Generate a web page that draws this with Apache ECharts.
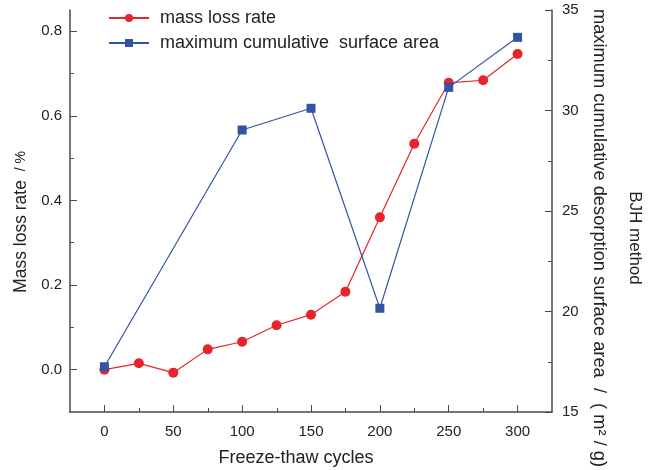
<!DOCTYPE html>
<html>
<head>
<meta charset="utf-8">
<script src="https://cdn.jsdelivr.net/npm/echarts@6/dist/echarts.min.js"></script>
<style>
html,body{margin:0;padding:0;background:#fff;}
#chart{width:653px;height:470px;}
</style>
</head>
<body>
<div id="chart"></div>
<script>
// Data
const cyclesMass = [0, 25, 50, 75, 100, 125, 150, 175, 200, 225, 250, 275, 300];
const massLossRate = [0.0, 0.015, -0.007, 0.048, 0.066, 0.105, 0.130, 0.184, 0.36, 0.534, 0.678, 0.684, 0.746];
const cyclesArea = [0, 100, 150, 200, 250, 300];
const surfaceArea = [17.25, 29.03, 30.11, 20.16, 31.15, 33.64];
const xMajorTicks = [0, 50, 100, 150, 200, 250, 300];
const xMinorTicks = [25, 75, 125, 175, 225, 275];
const leftMajorTicks = [0, 0.2, 0.4, 0.6, 0.8];
const leftMinorTicks = [0.1, 0.3, 0.5, 0.7];

const axisColor = '#4a4a4a';
const textColor = '#222';
const font = 'Liberation Sans, Arial, sans-serif';
const yLeftMin = -0.1;

const chart = echarts.init(document.getElementById('chart'), null, {renderer: 'canvas'});
chart.setOption({
  animation: false,
  backgroundColor: '#fff',
  textStyle: {fontFamily: font},
  grid: {left: 70, right: 101, top: 10, bottom: 58, containLabel: false, outerBoundsMode: 'none'},
  legend: {
    orient: 'vertical',
    left: 103,
    top: 4,
    itemWidth: 40,
    itemHeight: 10,
    itemGap: 7,
    textStyle: {fontSize: 18, color: textColor, fontFamily: font, padding: [0, 0, 0, 6]},
    data: ['mass loss rate', 'maximum cumulative  surface area']
  },
  xAxis: [{
    type: 'value',
    position: 'bottom',
    min: -25, max: 325,
    name: 'Freeze-thaw cycles',
    nameLocation: 'middle',
    nameGap: 37,
    nameTextStyle: {fontSize: 18, color: textColor, padding: [0, 30, 0, 0]},
    axisLine: {show: true, onZero: false, lineStyle: {color: axisColor, width: 1.5}},
    axisTick: {show: true, inside: true, length: 7, customValues: xMajorTicks, lineStyle: {color: axisColor, width: 1}},
    axisLabel: {show: true, customValues: xMajorTicks, fontSize: 15, color: textColor, margin: 12},
    splitLine: {show: false}
  }],
  yAxis: [{
    type: 'value',
    min: yLeftMin, max: 0.85,
    position: 'left',
    name: '{a|Mass loss rate }{b| / %}',
    nameLocation: 'middle',
    nameRotate: 90,
    nameGap: 40,
    nameTextStyle: {
      color: textColor, padding: [0, 22, 0, 0],
      rich: {a: {fontSize: 17.5, color: textColor, fontFamily: font}, b: {fontSize: 14, color: textColor, fontFamily: font}}
    },
    axisLine: {show: true, onZero: false, lineStyle: {color: axisColor, width: 1.5}},
    axisTick: {show: true, inside: true, length: 7, customValues: leftMajorTicks, lineStyle: {color: axisColor, width: 1}},
    axisLabel: {show: true, customValues: leftMajorTicks, fontSize: 15, color: textColor, margin: 8,
      formatter: v => v.toFixed(1)},
    splitLine: {show: false}
  }, {
    type: 'value',
    min: yLeftMin, max: 0.85,
    position: 'left',
    offset: 0,
    axisLine: {show: false, onZero: false},
    axisTick: {show: true, inside: true, length: 4, customValues: leftMinorTicks, lineStyle: {color: axisColor, width: 1}},
    axisLabel: {show: false},
    splitLine: {show: false}
  }, {
    type: 'value',
    min: 15, max: 35, interval: 5,
    position: 'right',
    offset: 0,
    name: '{a|BJH method}\n{b|maximum cumulative desorption surface area  /  ( m² / g)}',
    nameLocation: 'middle',
    nameRotate: -90,
    nameGap: 27,
    nameTextStyle: {
      color: textColor, padding: [0, 0, 0, 54],
      rich: {
        a: {fontSize: 17, color: textColor, fontFamily: font, lineHeight: 36},
        b: {fontSize: 18.3, color: textColor, fontFamily: font, lineHeight: 36}
      }
    },
    axisLine: {show: true, onZero: false, lineStyle: {color: axisColor, width: 1.5}},
    axisTick: {show: true, inside: true, length: 7, lineStyle: {color: axisColor, width: 1}},
    minorTick: {show: true, splitNumber: 2, length: 4, lineStyle: {color: axisColor, width: 1}},
    axisLabel: {show: true, fontSize: 15, color: textColor, margin: 10},
    splitLine: {show: false}
  }],
  series: [{
    name: 'mass loss rate',
    type: 'line',
    xAxisIndex: 0,
    yAxisIndex: 0,
    data: cyclesMass.map((c, i) => [c, massLossRate[i]]),
    symbol: 'circle',
    symbolSize: 10,
    itemStyle: {color: '#e8232b'},
    lineStyle: {color: '#e8232b', width: 1.2}
  }, {
    name: 'maximum cumulative  surface area',
    type: 'line',
    xAxisIndex: 0,
    yAxisIndex: 2,
    data: cyclesArea.map((c, i) => [c, surfaceArea[i]]),
    symbol: 'rect',
    symbolSize: 9,
    itemStyle: {color: '#3353a4'},
    lineStyle: {color: '#3353a4', width: 1.2}
  }, {
    // minor ticks of the x axis, placed through the axis scale
    type: 'custom',
    xAxisIndex: 0,
    yAxisIndex: 0,
    silent: true,
    clip: false,
    z: 1,
    data: xMinorTicks.map(v => [v, yLeftMin]),
    renderItem: function (params, api) {
      const p = api.coord([api.value(0), api.value(1)]);
      const x = Math.round(p[0]) + 0.5;
      return {
        type: 'line',
        shape: {x1: x, y1: p[1], x2: x, y2: p[1] - 4},
        style: {stroke: axisColor, lineWidth: 1}
      };
    }
  }]
});
</script>
</body>
</html>
